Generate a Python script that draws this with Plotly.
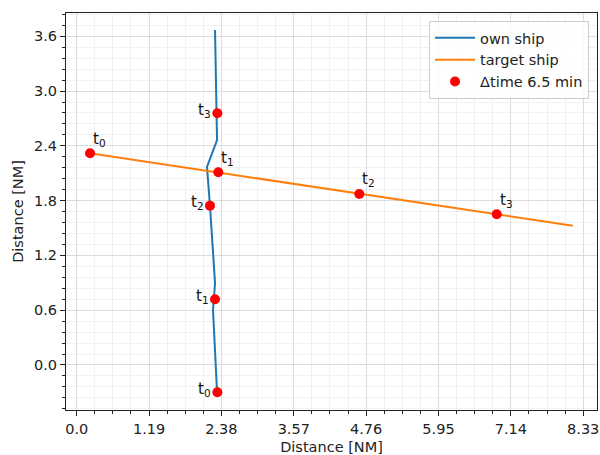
import plotly.graph_objects as go

# own ship track
own_x = [2.275, 2.308, 2.143, 2.192, 2.275, 2.242, 2.308]
own_y = [3.669, 2.464, 2.169, 1.741, 0.898, 0.602, -0.296]

# target ship track
tgt_x = [0.219, 2.329, 4.648, 6.908, 8.158]
tgt_y = [2.319, 2.110, 1.873, 1.651, 1.525]

# positions at 6.5 min intervals
own_dot_x = [2.313, 2.275, 2.192, 2.313]
own_dot_y = [-0.299, 0.720, 1.745, 2.757]
tgt_dot_x = [0.219, 2.329, 4.648, 6.908]
tgt_dot_y = [2.319, 2.110, 1.873, 1.651]
time_labels = ["t<sub>0</sub>", "t<sub>1</sub>", "t<sub>2</sub>", "t<sub>3</sub>"]

x_tickvals = [0.0, 1.19, 2.38, 3.57, 4.76, 5.95, 7.14, 8.33]
x_ticktext = ["0.0", "1.19", "2.38", "3.57", "4.76", "5.95", "7.14", "8.33"]
y_tickvals = [0.0, 0.6, 1.2, 1.8, 2.4, 3.0, 3.6]
y_ticktext = ["0.0", "0.6", "1.2", "1.8", "2.4", "3.0", "3.6"]

FONT = "DejaVu Sans"
FS = 14.5
fig = go.Figure()
fig.add_trace(go.Scatter(x=own_x, y=own_y, mode="lines", name="own ship",
                         line=dict(color="#1f77b4", width=2)))
fig.add_trace(go.Scatter(x=tgt_x, y=tgt_y, mode="lines", name="target ship",
                         line=dict(color="#ff7f0e", width=2)))
fig.add_trace(go.Scatter(x=own_dot_x + tgt_dot_x, y=own_dot_y + tgt_dot_y, mode="markers",
                         name="Δtime 6.5 min",
                         marker=dict(color="red", size=10, line=dict(width=0))))

for i, lab in enumerate(time_labels):
    fig.add_annotation(x=own_dot_x[i], y=own_dot_y[i], text=lab, showarrow=False,
                       xanchor="right", yanchor="middle", xshift=-4, yshift=3,
                       font=dict(family=FONT, size=15, color="#111"))
    fig.add_annotation(x=tgt_dot_x[i], y=tgt_dot_y[i], text=lab, showarrow=False,
                       xanchor="left", yanchor="middle", xshift=1, yshift=14,
                       font=dict(family=FONT, size=15, color="#111"))

axis_common = dict(showline=True, linecolor="#222", linewidth=1.2, mirror=True,
                   ticks="outside", ticklen=5, tickcolor="#222", zeroline=False,
                   showgrid=True, gridcolor="#dcdcdc", gridwidth=1, automargin=False,
                   tickfont=dict(family=FONT, size=FS, color="#222"))

fig.update_xaxes(**axis_common, range=[-0.176, 8.557], tickmode="array",
                 tickvals=x_tickvals, ticktext=x_ticktext,
                 minor=dict(ticks="outside", ticklen=3, dtick=0.2975, tick0=0,
                            tickcolor="#222", showgrid=True, gridcolor="#f1f1f4"),
                 title=dict(text="Distance [NM]", font=dict(family=FONT, size=FS, color="#222"),
                            standoff=8))
fig.update_yaxes(**axis_common, range=[-0.493, 3.855], tickmode="array",
                 tickvals=y_tickvals, ticktext=y_ticktext,
                 minor=dict(ticks="outside", ticklen=3, dtick=0.12, tick0=0,
                            tickcolor="#222", showgrid=True, gridcolor="#f1f1f4"),
                 title=dict(text="Distance [NM]", font=dict(family=FONT, size=FS, color="#222"),
                            standoff=6))

fig.update_layout(width=600, height=455, margin=dict(l=66, r=3, t=13, b=45, autoexpand=False),
                  plot_bgcolor="white", paper_bgcolor="white",
                  legend=dict(x=0.985, y=0.98, xanchor="right", yanchor="top",
                              bgcolor="rgba(255,255,255,0.85)", bordercolor="#cccccc",
                              borderwidth=1, itemwidth=40,
                              font=dict(family=FONT, size=FS, color="#222")),
                  showlegend=True)

fig.write_html("out.html", config={"displayModeBar": False},
               post_script="document.body.style.margin='0px';document.body.style.overflow='hidden';")
